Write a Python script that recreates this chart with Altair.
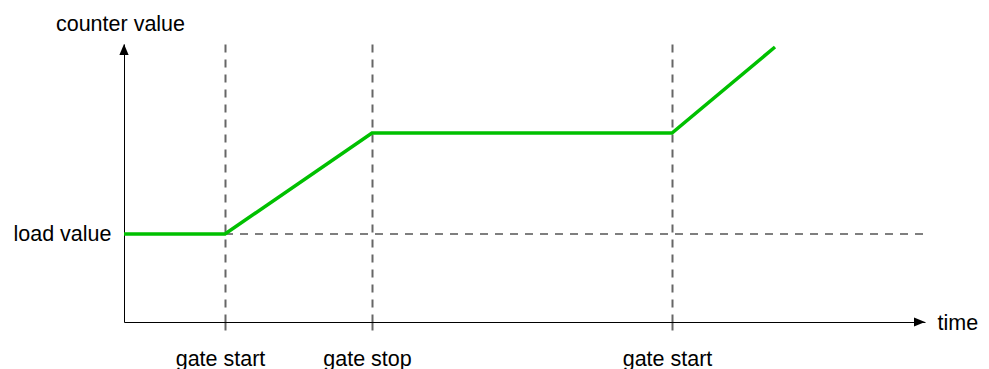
import altair as alt
import pandas as pd

# ---- data ----
time_points = [0, 101, 248, 548, 651]
counter_values = [88, 88, 189, 189, 275]
gate_times = [101, 248, 548]
gate_labels = ["gate start", "gate stop", "gate start"]
load_value = 88
load_line_start = 101
load_line_end = 805
x_max = 801
y_max = 278

FONT = "Liberation Sans"
FS = 21.5

line_df = pd.DataFrame({"t": time_points, "v": counter_values})
load_df = pd.DataFrame({"t": [load_line_start], "t2": [load_line_end], "v": [load_value]})
arrow_df = pd.DataFrame({"t": [0, x_max], "v": [y_max, 0],
                         "shape": ["up", "right"]})

# label expression built from the arrays
label_expr = "''"
for t, lab in zip(gate_times, gate_labels):
    label_expr = f"datum.value == {t} ? '{lab}' : ({label_expr})"

x_scale = alt.Scale(domain=[0, x_max], nice=False, zero=False)
y_scale = alt.Scale(domain=[0, y_max], nice=False, zero=False)

x_axis = alt.Axis(
    values=gate_times, labelExpr=label_expr,
    title="time", titleX=813, titleY=7, titleAlign="left",
    titleBaseline="alphabetic", titleFont=FONT, titleFontSize=FS,
    titleFontWeight="normal", titleColor="black",
    labelFont=FONT, labelFontSize=FS, labelColor="black",
    labelBaseline="alphabetic", labelPadding=35, labelOffset=-5,
    labelAngle=0, labelFlush=False, labelOverlap=False,
    domain=True, domainColor="black", domainWidth=1,
    ticks=True, tickSize=8, tickColor="#666666", tickWidth=2, tickDash=[8, 7],
    grid=True, gridColor="#666666", gridWidth=2, gridDash=[8, 7], gridOpacity=1,
)
y_axis = alt.Axis(
    values=[load_value], labelExpr="'load value'",
    title="counter value", titleAngle=0, titleX=-4, titleY=-14,
    titleAlign="center", titleBaseline="alphabetic", titleFont=FONT,
    titleFontSize=FS, titleFontWeight="normal", titleColor="black",
    labelFont=FONT, labelFontSize=FS, labelColor="black", labelPadding=13,
    domain=True, domainColor="black", domainWidth=1,
    ticks=False, grid=False,
)

base_x = alt.X("t:Q", scale=x_scale, axis=x_axis)
base_y = alt.Y("v:Q", scale=y_scale, axis=y_axis)

load_rule = alt.Chart(load_df).mark_rule(
    color="#555555", strokeWidth=1.5, strokeDash=[8, 7]
).encode(
    x=alt.X("t:Q", scale=x_scale, axis=x_axis),
    x2="t2:Q",
    y=alt.Y("v:Q", scale=y_scale, axis=y_axis),
)

counter_line = alt.Chart(line_df).mark_line(
    color="#00c000", strokeWidth=3.5, strokeJoin="miter"
).encode(x=base_x, y=base_y)

up_arrow = alt.Chart(arrow_df[arrow_df["shape"] == "up"]).mark_point(
    shape="M 0 0 L 0.42 1 L -0.42 1 Z", size=484, filled=True,
    color="black", opacity=1, strokeWidth=0
).encode(x=base_x, y=base_y)

right_arrow = alt.Chart(arrow_df[arrow_df["shape"] == "right"]).mark_point(
    shape="M 0 0 L -1 -0.42 L -1 0.42 Z", size=484, filled=True,
    color="black", opacity=1, strokeWidth=0
).encode(x=base_x, y=base_y)

chart = alt.layer(load_rule, counter_line, up_arrow, right_arrow).properties(
    width=x_max, height=y_max,
    autosize=alt.AutoSizeParams(type="none"),
    padding={"left": 116, "top": 36, "right": 56, "bottom": 47},
    background="white",
).configure_view(stroke=None, strokeWidth=0)

chart.save("out.html", embed_options={"renderer": "svg", "actions": False})
